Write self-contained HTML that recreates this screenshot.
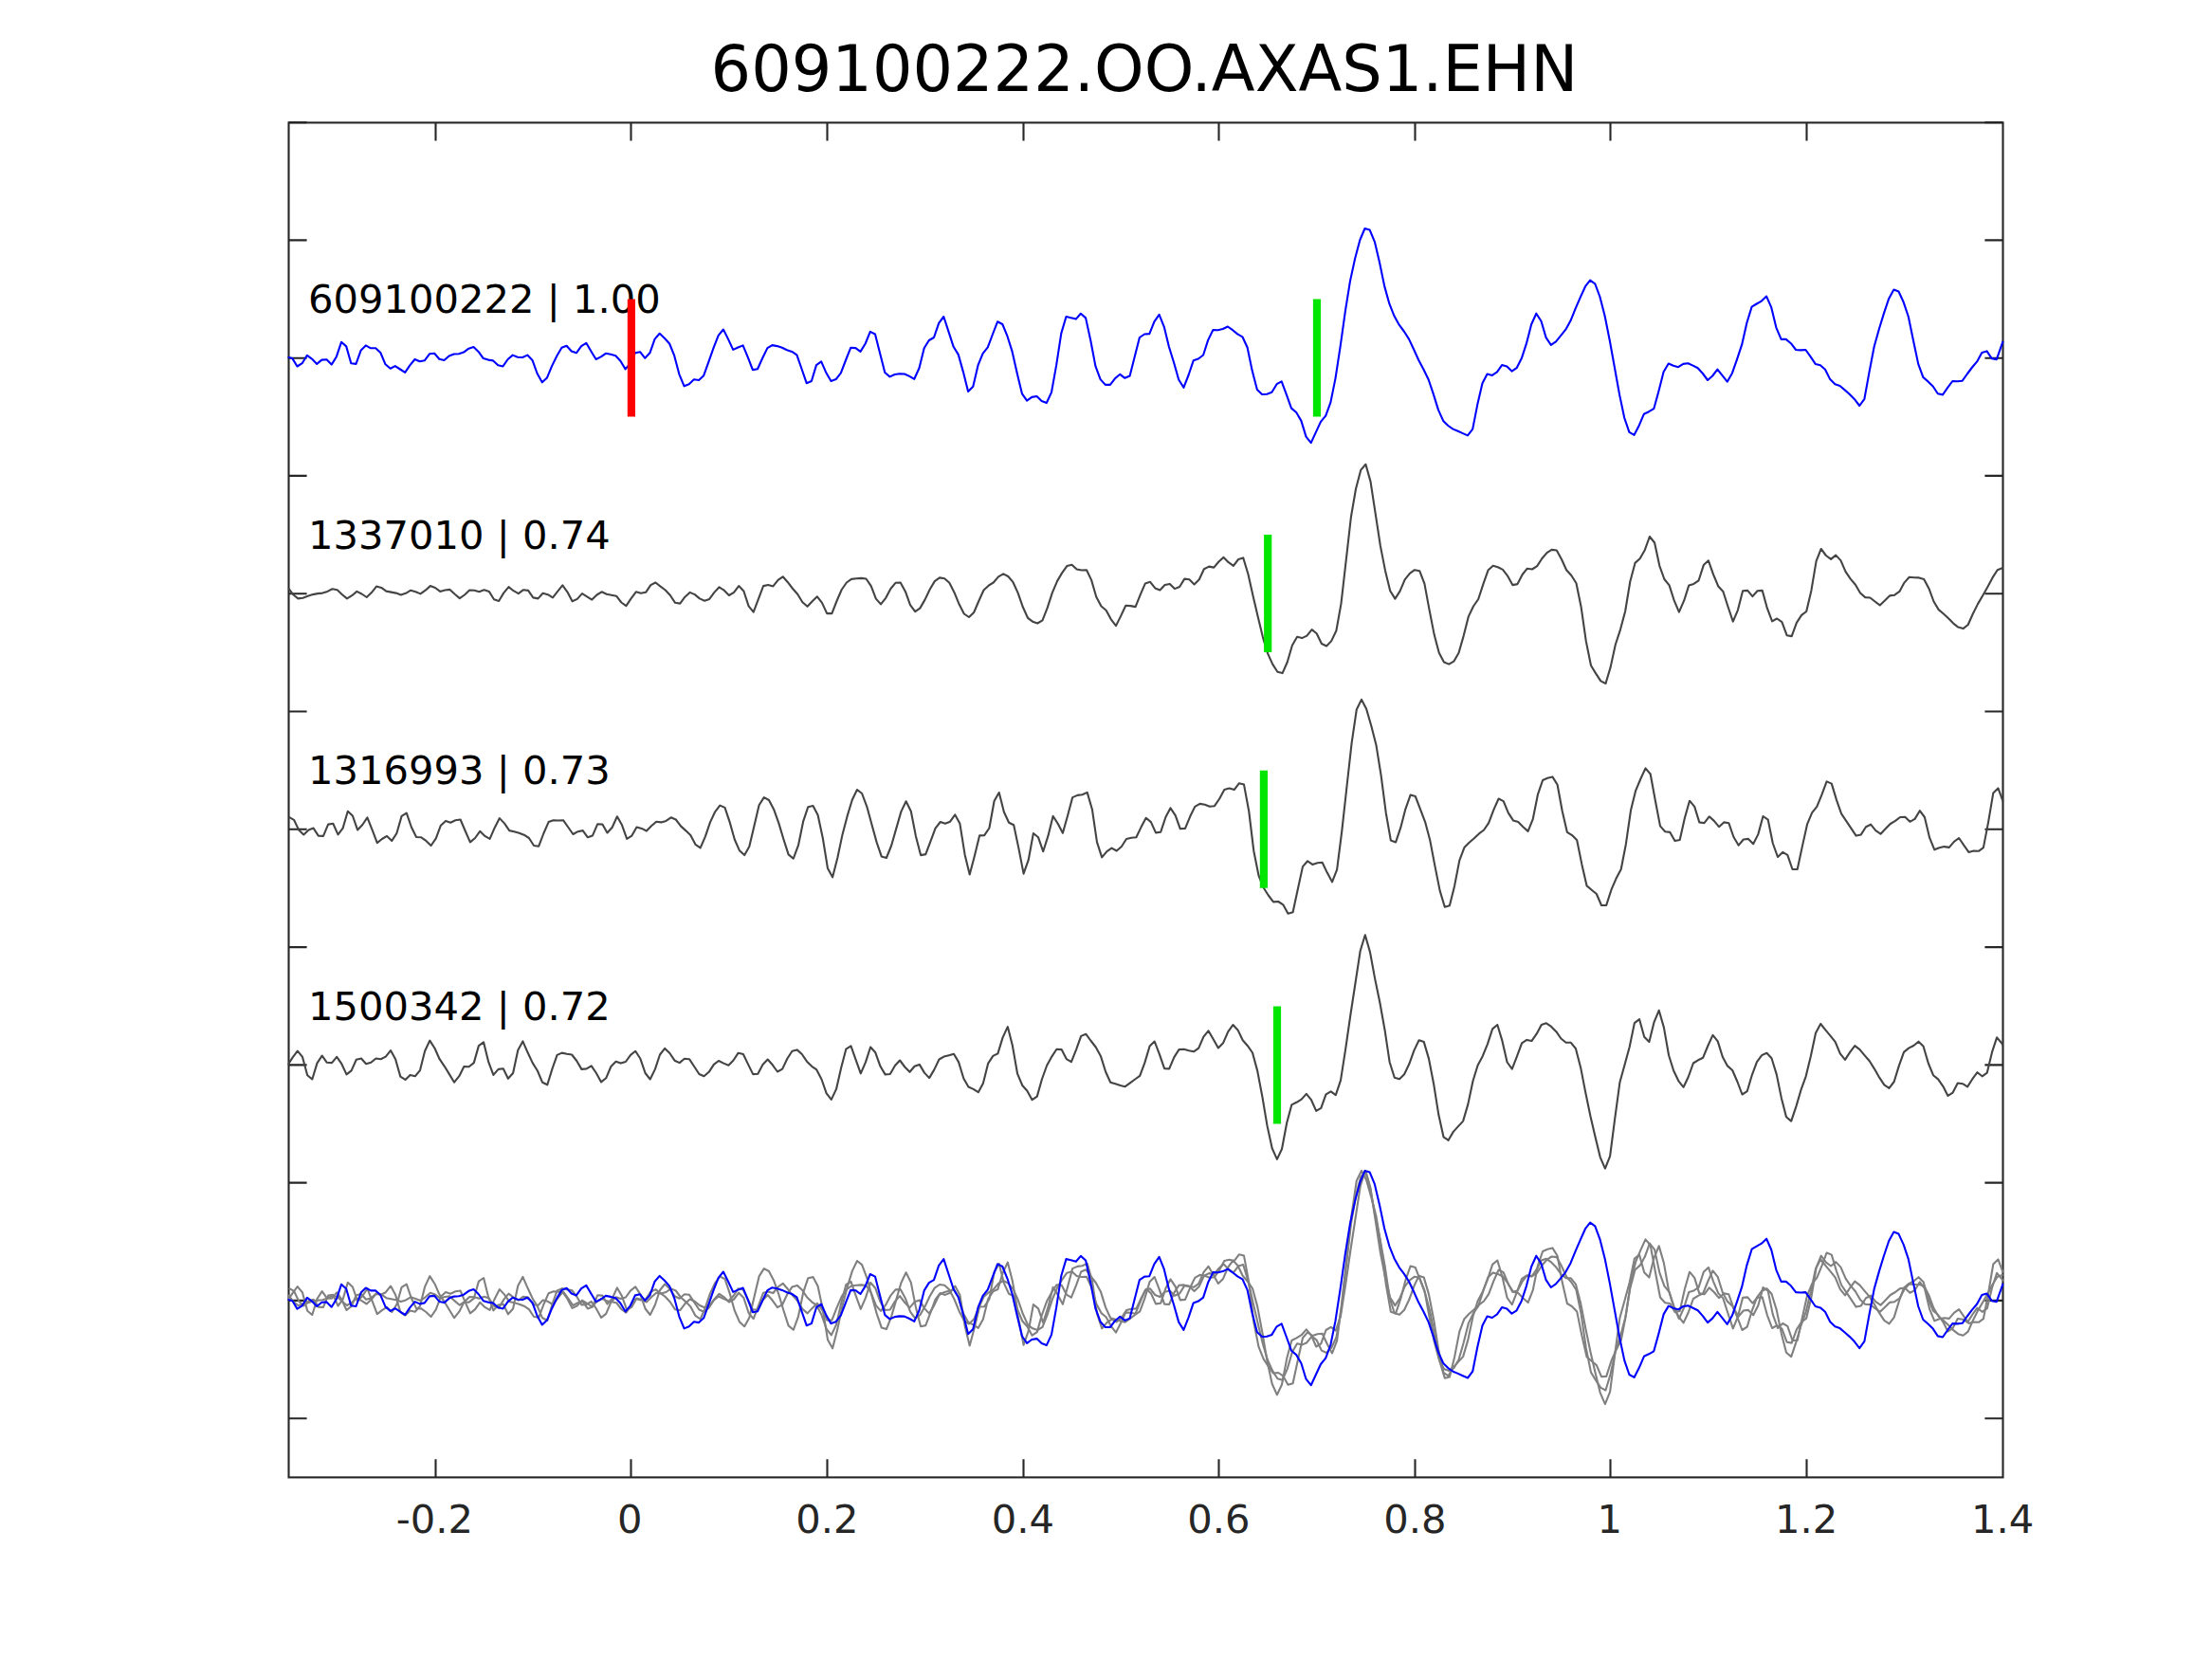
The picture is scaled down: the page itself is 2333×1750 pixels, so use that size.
<!DOCTYPE html>
<html><head><meta charset="utf-8"><title>609100222.OO.AXAS1.EHN</title>
<style>
html,body{margin:0;padding:0;background:#fff;}
body{width:2333px;height:1750px;overflow:hidden;}
svg{display:block;}
text{font-family:"DejaVu Sans","Liberation Sans",sans-serif;}
.tl{font-size:41.67px;fill:#262626;text-anchor:middle;}
.lb{font-size:41.67px;fill:#000;}
.ti{font-size:66.92px;fill:#000;text-anchor:middle;}
.ax{stroke:#262626;stroke-width:2.1;fill:none;stroke-linecap:square;}
.tk{stroke:#262626;stroke-width:2.1;fill:none;}
.w{fill:none;stroke-width:2.1;stroke-linejoin:round;stroke-linecap:butt;}
</style></head><body>
<svg width="2333" height="1750" viewBox="0 0 2333 1750">
<rect x="0" y="0" width="2333" height="1750" fill="#fff"/>

<rect class="ax" x="304.5" y="129.4" width="1808.0" height="1429.0"/>
<path class="tk" d="M459.5 1558.4V1539.3M459.5 129.4V148.5M665.5 1558.4V1539.3M665.5 129.4V148.5M872.5 1558.4V1539.3M872.5 129.4V148.5M1079.5 1558.4V1539.3M1079.5 129.4V148.5M1285.5 1558.4V1539.3M1285.5 129.4V148.5M1492.5 1558.4V1539.3M1492.5 129.4V148.5M1698.5 1558.4V1539.3M1698.5 129.4V148.5M1905.5 1558.4V1539.3M1905.5 129.4V148.5M304.5 1496.2H323.6M2112.5 1496.2H2093.4M304.5 1371.9H323.6M2112.5 1371.9H2093.4M304.5 1247.6H323.6M2112.5 1247.6H2093.4M304.5 1123.4H323.6M2112.5 1123.4H2093.4M304.5 999.1H323.6M2112.5 999.1H2093.4M304.5 874.8H323.6M2112.5 874.8H2093.4M304.5 750.5H323.6M2112.5 750.5H2093.4M304.5 626.2H323.6M2112.5 626.2H2093.4M304.5 501.9H323.6M2112.5 501.9H2093.4M304.5 377.7H323.6M2112.5 377.7H2093.4M304.5 253.4H323.6M2112.5 253.4H2093.4M304.5 129.1H323.6M2112.5 129.1H2093.4"/>
<text class="lb" x="325" y="330.2">609100222 | 1.00</text>
<text class="lb" x="325" y="578.7">1337010 | 0.74</text>
<text class="lb" x="325" y="827.3">1316993 | 0.73</text>
<text class="lb" x="325" y="1075.9">1500342 | 0.72</text>
<clipPath id="c"><rect x="303.4" y="129.4" width="1812.1" height="1429.0"/></clipPath><g clip-path="url(#c)">
<path class="w" stroke="#808080" stroke-width="1.6" d="M304.1 1365.9L309.2 1372.8L314.4 1377.0L319.5 1376.3L324.7 1374.2L329.9 1372.7L335.0 1371.6L340.2 1371.2L345.4 1369.5L350.5 1366.9L355.7 1367.7L360.9 1372.8L366.0 1377.0L371.2 1373.8L376.4 1369.5L381.5 1372.1L386.7 1375.5L391.9 1370.6L397.0 1364.1L402.2 1365.4L407.4 1369.2L412.5 1370.2L417.7 1371.2L422.8 1373.1L428.0 1371.4L433.2 1368.3L438.3 1369.9L443.5 1371.9L448.7 1368.3L453.8 1363.7L459.0 1365.6L464.2 1369.5L469.3 1368.0L474.5 1367.4L479.7 1372.4L484.8 1376.7L490.0 1373.1L495.2 1368.0L500.3 1368.3L505.5 1369.8L510.7 1367.7L515.8 1369.5L521.0 1377.7L526.1 1379.6L531.3 1370.9L536.5 1364.7L541.6 1368.7L546.8 1371.6L552.0 1367.7L557.1 1368.5L562.3 1376.0L567.5 1377.0L572.6 1371.4L577.8 1372.8L583.0 1376.0L588.1 1369.5L593.3 1363.0L598.5 1370.2L603.6 1379.9L608.8 1377.4L614.0 1371.6L619.1 1374.8L624.3 1378.2L629.5 1373.1L634.6 1369.9L639.8 1372.4L644.9 1373.2L650.1 1374.2L655.3 1381.0L660.4 1384.7L665.6 1377.0L670.8 1369.9L675.9 1371.4L681.1 1370.3L686.3 1362.7L691.4 1360.1L696.6 1364.1L701.8 1368.0L706.9 1373.5L712.1 1381.3L717.3 1382.2L722.4 1375.3L727.6 1370.5L732.8 1372.7L737.9 1377.0L743.1 1379.3L748.2 1377.4L753.4 1370.5L758.6 1364.8L763.7 1368.3L768.9 1373.5L774.1 1370.5L779.2 1363.7L784.4 1369.0L789.6 1385.0L794.7 1391.2L799.9 1377.4L805.1 1363.7L810.2 1362.5L815.4 1364.0L820.6 1357.5L825.7 1353.8L830.9 1359.8L836.1 1366.6L841.2 1372.4L846.4 1380.8L851.6 1385.4L856.7 1379.9L861.9 1374.8L867.0 1381.5L872.2 1392.6L877.4 1392.6L882.5 1379.6L887.7 1367.6L892.9 1360.1L898.0 1356.5L903.2 1355.7L908.4 1355.4L913.5 1356.0L918.7 1363.7L923.9 1377.1L929.0 1382.9L934.2 1376.4L939.4 1366.6L944.5 1360.4L949.7 1360.1L954.9 1369.5L960.0 1383.6L965.2 1390.7L970.3 1387.1L975.5 1378.2L980.7 1367.3L985.8 1358.6L991.0 1355.0L996.2 1355.7L1001.3 1360.4L1006.5 1370.5L1011.7 1383.2L1016.8 1393.1L1022.0 1396.5L1027.2 1391.6L1032.3 1379.6L1037.5 1368.0L1042.7 1363.3L1047.8 1360.1L1053.0 1354.0L1058.2 1351.0L1063.3 1353.6L1068.5 1359.8L1073.6 1370.9L1078.8 1385.8L1084.0 1397.4L1089.1 1401.3L1094.3 1403.0L1099.5 1399.9L1104.6 1386.8L1109.8 1370.9L1115.0 1358.6L1120.1 1349.9L1125.3 1342.7L1130.5 1341.3L1135.6 1346.0L1140.8 1347.0L1146.0 1346.8L1151.1 1357.5L1156.3 1375.3L1161.5 1385.1L1166.6 1389.3L1171.8 1398.8L1177.0 1405.6L1182.1 1395.5L1187.3 1384.4L1192.4 1384.7L1197.6 1385.7L1202.8 1372.8L1207.9 1360.9L1213.1 1359.3L1218.3 1366.0L1223.4 1368.0L1228.6 1362.7L1233.8 1361.5L1238.9 1366.7L1244.1 1364.5L1249.3 1356.1L1254.4 1356.9L1259.6 1361.9L1264.8 1356.9L1269.9 1345.7L1275.1 1343.1L1280.3 1344.1L1285.4 1338.1L1290.6 1333.4L1295.7 1338.8L1300.9 1342.4L1306.1 1335.6L1311.2 1334.0L1316.4 1351.1L1321.6 1374.2L1326.7 1395.9L1331.9 1417.6L1337.1 1435.0L1342.2 1446.1L1347.4 1454.2L1352.6 1455.7L1357.7 1444.1L1362.9 1426.3L1368.1 1417.3L1373.2 1418.6L1378.4 1416.2L1383.6 1409.7L1388.7 1413.7L1393.9 1424.6L1399.1 1427.0L1404.2 1421.7L1409.4 1410.8L1414.5 1382.2L1419.7 1336.6L1424.9 1291.0L1430.0 1261.4L1435.2 1241.4L1440.4 1235.4L1445.5 1253.4L1450.7 1287.4L1455.9 1321.4L1461.0 1347.5L1466.2 1368.9L1471.4 1377.1L1476.5 1369.2L1481.7 1356.9L1486.9 1350.4L1492.0 1346.7L1497.2 1347.8L1502.4 1361.2L1507.5 1388.7L1512.7 1415.2L1517.8 1434.3L1523.0 1444.1L1528.2 1446.1L1533.3 1443.2L1538.5 1434.3L1543.7 1416.2L1548.8 1395.9L1554.0 1385.1L1559.2 1377.6L1564.3 1361.9L1569.5 1347.2L1574.7 1342.4L1579.8 1343.9L1585.0 1346.5L1590.2 1353.3L1595.3 1362.7L1600.5 1361.6L1605.7 1351.5L1610.8 1345.3L1616.0 1346.0L1621.2 1342.7L1626.3 1334.7L1631.5 1328.7L1636.6 1325.5L1641.8 1326.1L1647.0 1335.6L1652.1 1346.7L1657.3 1352.5L1662.5 1360.8L1667.6 1385.8L1672.8 1422.0L1678.0 1447.6L1683.1 1456.0L1688.3 1463.9L1693.5 1466.5L1698.6 1449.5L1703.8 1425.6L1709.0 1409.7L1714.1 1390.6L1719.3 1359.0L1724.5 1339.5L1729.6 1334.9L1734.8 1325.8L1739.9 1311.6L1745.1 1318.1L1750.3 1342.4L1755.4 1356.6L1760.6 1362.9L1765.8 1379.3L1770.9 1391.2L1776.1 1379.3L1781.3 1362.9L1786.4 1361.5L1791.6 1357.9L1796.8 1341.7L1801.9 1336.9L1807.1 1351.8L1812.3 1364.1L1817.4 1369.6L1822.6 1385.8L1827.8 1401.3L1832.9 1389.1L1838.1 1368.7L1843.2 1368.4L1848.4 1374.7L1853.6 1368.7L1858.7 1368.4L1863.9 1387.3L1869.1 1401.0L1874.2 1398.1L1879.4 1401.7L1884.6 1415.7L1889.7 1416.6L1894.9 1402.4L1900.1 1394.5L1905.2 1390.6L1910.4 1368.4L1915.6 1337.3L1920.7 1324.6L1925.9 1331.6L1931.1 1335.5L1936.2 1331.1L1941.4 1336.6L1946.6 1348.6L1951.7 1356.1L1956.9 1362.2L1962.0 1371.0L1967.2 1375.7L1972.4 1376.1L1977.5 1380.0L1982.7 1383.9L1987.9 1379.0L1993.0 1373.9L1998.2 1373.2L2003.4 1369.5L2008.5 1360.2L2013.7 1354.4L2018.9 1354.8L2024.0 1355.0L2029.2 1356.4L2034.4 1366.3L2039.5 1380.0L2044.7 1388.7L2049.9 1393.0L2055.0 1397.8L2060.2 1403.2L2065.3 1407.2L2070.5 1408.7L2075.7 1404.6L2080.8 1393.0L2086.0 1382.6L2091.2 1373.8L2096.3 1364.8L2101.5 1355.0L2106.7 1346.7L2111.8 1344.9L2112.6 1344.7"/>
<path class="w" stroke="#808080" stroke-width="1.6" d="M304.8 1358.9L310.0 1361.8L315.1 1372.4L320.3 1377.5L325.5 1372.4L330.6 1370.7L335.8 1378.6L341.0 1378.9L346.1 1366.6L351.3 1365.9L356.5 1377.5L361.6 1370.7L366.8 1352.9L371.9 1357.5L377.1 1372.4L382.3 1367.0L387.4 1359.4L392.6 1372.4L397.8 1386.1L402.9 1382.1L408.1 1378.9L413.3 1384.0L418.4 1376.0L423.6 1357.9L428.8 1354.7L433.9 1369.5L439.1 1380.1L444.3 1380.4L449.4 1384.0L454.6 1389.0L459.8 1381.4L464.9 1367.8L470.1 1363.0L475.2 1364.7L480.4 1362.3L485.6 1361.5L490.7 1373.6L495.9 1385.4L501.1 1381.1L506.2 1373.8L511.4 1378.9L516.6 1381.8L521.7 1370.2L526.9 1360.1L532.1 1365.6L537.2 1373.1L542.4 1374.3L547.6 1375.7L552.7 1377.7L557.9 1381.1L563.1 1389.0L568.2 1389.8L573.4 1376.0L578.6 1364.2L583.7 1362.3L588.9 1362.6L594.0 1362.3L599.2 1369.5L604.4 1377.0L609.5 1374.3L614.7 1373.1L619.9 1380.4L625.0 1378.5L630.2 1366.3L635.4 1366.6L640.5 1375.6L645.7 1369.8L650.9 1358.4L656.0 1367.3L661.2 1381.8L666.4 1378.6L671.5 1369.5L676.7 1370.9L681.9 1373.6L687.0 1368.3L692.2 1363.7L697.3 1364.4L702.5 1363.0L707.7 1359.4L712.8 1361.5L718.0 1368.5L723.2 1373.1L728.3 1378.2L733.5 1387.9L738.7 1391.5L743.8 1379.6L749.0 1364.4L754.2 1353.3L759.3 1346.6L764.5 1349.0L769.7 1364.4L774.8 1382.5L780.0 1394.4L785.2 1399.2L790.3 1390.0L795.5 1368.1L800.6 1346.4L805.8 1338.1L811.0 1341.0L816.1 1350.7L821.3 1365.2L826.5 1382.5L831.6 1398.4L836.8 1402.8L842.0 1388.7L847.1 1363.7L852.3 1348.2L857.5 1347.1L862.6 1356.8L867.8 1381.1L873.0 1413.2L878.1 1422.3L883.3 1402.1L888.5 1377.5L893.6 1357.9L898.8 1340.9L904.0 1330.0L909.1 1334.1L914.3 1347.8L919.4 1366.6L924.6 1385.4L929.8 1400.6L934.9 1402.1L940.1 1389.0L945.3 1370.9L950.4 1353.2L955.6 1342.3L960.8 1352.9L965.9 1378.9L971.1 1399.2L976.3 1398.1L981.4 1384.7L986.6 1370.7L991.8 1364.0L996.9 1365.9L1002.1 1363.7L1007.3 1356.5L1012.4 1365.9L1017.6 1398.4L1022.7 1419.4L1027.9 1399.9L1033.1 1378.5L1038.2 1378.2L1043.4 1370.5L1048.6 1342.0L1053.7 1333.0L1058.9 1353.6L1064.1 1364.7L1069.2 1367.3L1074.4 1391.9L1079.6 1418.7L1084.7 1404.2L1089.9 1376.0L1095.1 1380.4L1100.2 1395.3L1105.4 1378.9L1110.6 1357.9L1115.7 1365.9L1120.9 1375.7L1126.1 1357.2L1131.2 1338.1L1136.4 1335.9L1141.5 1335.2L1146.7 1332.9L1151.9 1350.7L1157.0 1385.4L1162.2 1401.3L1167.4 1395.1L1172.5 1391.6L1177.7 1394.5L1182.9 1390.0L1188.0 1382.1L1193.2 1380.8L1198.4 1380.4L1203.5 1369.6L1208.7 1359.8L1213.9 1364.1L1219.0 1375.4L1224.2 1374.7L1229.4 1359.1L1234.5 1349.4L1239.7 1357.2L1244.8 1371.4L1250.0 1370.9L1255.2 1358.3L1260.3 1347.9L1265.5 1344.9L1270.7 1345.8L1275.8 1347.8L1281.0 1347.2L1286.2 1339.5L1291.3 1330.1L1296.5 1328.7L1301.7 1330.1L1306.8 1323.3L1312.0 1324.6L1317.2 1352.6L1322.3 1394.5L1327.5 1420.6L1332.7 1433.6L1337.8 1441.5L1343.0 1448.5L1348.2 1448.0L1353.3 1451.4L1358.5 1460.8L1363.6 1459.3L1368.8 1435.0L1374.0 1411.2L1379.1 1405.4L1384.3 1409.0L1389.5 1407.2L1394.6 1406.8L1399.8 1417.7L1405.0 1427.4L1410.1 1414.3L1415.3 1373.5L1420.5 1326.5L1425.6 1281.0L1430.8 1245.5L1436.0 1234.9L1441.1 1244.8L1446.3 1262.9L1451.5 1283.1L1456.6 1314.9L1461.8 1354.7L1466.9 1383.7L1472.1 1385.4L1477.3 1369.9L1482.4 1350.4L1487.6 1335.6L1492.8 1337.1L1497.9 1350.4L1503.1 1364.1L1508.3 1383.7L1513.4 1410.4L1518.6 1436.5L1523.8 1453.8L1528.9 1452.4L1534.1 1431.4L1539.3 1404.6L1544.4 1391.2L1549.6 1385.8L1554.8 1381.2L1559.9 1376.4L1565.1 1372.5L1570.2 1364.9L1575.4 1351.1L1580.6 1339.5L1585.7 1342.1L1590.9 1354.7L1596.1 1362.7L1601.2 1364.1L1606.4 1369.2L1611.6 1374.0L1616.7 1361.2L1621.9 1335.2L1627.1 1320.0L1632.2 1317.8L1637.4 1316.4L1642.6 1324.8L1647.7 1352.6L1652.9 1375.0L1658.1 1378.2L1663.2 1383.4L1668.4 1409.0L1673.6 1431.4L1678.7 1435.7L1683.9 1440.1L1689.0 1452.1L1694.2 1451.9L1699.4 1435.7L1704.5 1423.9L1709.7 1414.0L1714.9 1387.3L1720.0 1351.8L1725.2 1330.9L1730.4 1318.6L1735.5 1307.4L1740.7 1313.5L1745.9 1341.7L1751.0 1368.5L1756.2 1374.3L1761.4 1375.0L1766.5 1384.1L1771.7 1382.9L1776.9 1359.8L1782.0 1341.7L1787.2 1347.9L1792.3 1364.4L1797.5 1365.3L1802.7 1358.3L1807.8 1363.0L1813.0 1369.2L1818.2 1364.4L1823.3 1365.3L1828.5 1380.0L1833.7 1388.7L1838.8 1382.5L1844.0 1381.9L1849.2 1387.3L1854.3 1377.2L1859.5 1358.1L1864.7 1361.7L1869.8 1386.6L1875.0 1401.0L1880.2 1396.0L1885.3 1398.9L1890.5 1414.0L1895.7 1414.0L1900.8 1390.2L1906.0 1366.7L1911.1 1354.4L1916.3 1347.9L1921.5 1335.2L1926.6 1321.5L1931.8 1323.6L1937.0 1341.0L1942.1 1355.5L1947.3 1363.1L1952.5 1370.9L1957.6 1378.6L1962.8 1377.4L1968.0 1369.2L1973.1 1366.7L1978.3 1373.1L1983.5 1376.7L1988.6 1371.4L1993.8 1366.0L1999.0 1363.0L2004.1 1359.1L2009.3 1358.8L2014.4 1363.8L2019.6 1361.0L2024.8 1352.3L2029.9 1359.1L2035.1 1380.8L2040.3 1393.4L2045.4 1391.3L2050.6 1390.2L2055.8 1390.9L2060.9 1384.8L2066.1 1381.1L2071.3 1388.7L2076.4 1396.0L2081.6 1394.5L2086.8 1394.8L2091.9 1391.2L2097.1 1364.1L2102.3 1333.5L2107.4 1328.4L2112.6 1342.4L2112.6 1342.5"/>
<path class="w" stroke="#808080" stroke-width="1.6" d="M303.5 1371.8L308.7 1363.9L313.8 1357.1L319.0 1363.4L324.2 1382.7L329.3 1387.0L334.5 1370.0L339.7 1362.1L344.8 1369.4L350.0 1369.7L355.2 1363.4L360.3 1370.7L365.5 1382.0L370.6 1377.9L375.8 1366.3L381.0 1365.0L386.1 1370.7L391.3 1369.4L396.5 1365.0L401.6 1365.8L406.8 1363.2L412.0 1356.6L417.1 1365.8L422.3 1384.1L427.5 1387.5L432.6 1382.4L437.8 1383.7L443.0 1377.6L448.1 1357.4L453.3 1346.1L458.5 1354.2L463.6 1365.8L468.8 1373.3L473.9 1381.7L479.1 1390.2L484.3 1383.7L489.4 1373.6L494.6 1373.7L499.8 1369.7L504.9 1351.6L510.1 1348.0L515.3 1368.9L520.4 1382.4L525.6 1376.5L530.8 1375.7L535.9 1386.3L541.1 1380.5L546.3 1356.2L551.4 1346.9L556.6 1358.8L561.8 1370.0L566.9 1378.1L572.1 1390.3L577.3 1392.8L582.4 1376.2L587.6 1361.4L592.7 1359.1L597.9 1360.3L603.1 1361.0L608.2 1367.5L613.4 1376.5L618.6 1375.9L623.7 1372.8L628.9 1380.5L634.1 1389.9L639.2 1385.9L644.4 1373.6L649.6 1368.2L654.7 1370.1L659.9 1368.5L665.1 1361.4L670.2 1357.4L675.4 1365.3L680.6 1380.5L685.7 1387.0L690.9 1376.5L696.0 1361.0L701.2 1354.5L706.4 1359.5L711.5 1367.2L716.7 1369.7L721.9 1365.3L727.0 1365.8L732.2 1373.6L737.4 1381.5L742.5 1383.8L747.7 1379.4L752.9 1371.4L758.0 1367.5L763.2 1370.1L768.4 1372.3L773.5 1367.1L778.7 1359.2L783.9 1360.5L789.0 1371.1L794.2 1381.7L799.3 1381.2L804.5 1371.5L809.7 1366.0L814.8 1371.8L820.0 1379.1L825.2 1376.2L830.3 1365.3L835.5 1357.4L840.7 1355.9L845.8 1360.5L851.0 1368.2L856.2 1373.3L861.3 1376.9L866.5 1387.0L871.7 1401.9L876.8 1408.4L882.0 1397.4L887.2 1374.7L892.3 1355.2L897.5 1351.9L902.7 1366.8L907.8 1380.8L913.0 1368.9L918.1 1353.0L923.3 1358.8L928.5 1373.3L933.6 1382.0L938.8 1381.5L944.0 1372.6L949.1 1367.1L954.3 1374.0L959.5 1379.4L964.6 1373.3L969.8 1371.4L975.0 1380.1L980.1 1385.6L985.3 1376.9L990.5 1366.0L995.6 1363.2L1000.8 1361.7L1006.0 1360.3L1011.1 1368.9L1016.3 1386.0L1021.4 1395.0L1026.6 1397.4L1031.8 1400.8L1036.9 1391.4L1042.1 1370.4L1047.3 1362.4L1052.4 1360.0L1057.6 1342.9L1062.8 1331.6L1067.9 1351.6L1073.1 1381.2L1078.3 1393.5L1083.4 1399.3L1088.6 1408.7L1093.8 1405.1L1098.9 1387.0L1104.1 1372.6L1109.3 1363.2L1114.4 1355.2L1119.6 1355.6L1124.8 1365.6L1129.9 1368.6L1135.1 1355.6L1140.2 1341.5L1145.4 1339.3L1150.6 1346.5L1155.7 1353.0L1160.9 1362.4L1166.1 1379.1L1171.2 1390.3L1176.4 1391.8L1181.6 1393.5L1186.7 1394.7L1191.9 1390.9L1197.1 1387.0L1202.2 1383.4L1207.4 1369.4L1212.6 1352.0L1217.7 1347.0L1222.9 1360.7L1228.1 1375.6L1233.2 1375.9L1238.4 1363.6L1243.5 1355.7L1248.7 1355.4L1253.9 1356.8L1259.0 1357.8L1264.2 1354.2L1269.4 1342.2L1274.5 1335.8L1279.7 1344.8L1284.9 1353.9L1290.0 1348.9L1295.2 1336.9L1300.4 1329.6L1305.5 1335.0L1310.7 1345.8L1315.9 1351.8L1321.0 1359.0L1326.2 1378.1L1331.4 1405.6L1336.5 1435.9L1341.7 1459.8L1346.9 1471.4L1352.0 1460.5L1357.2 1433.1L1362.3 1414.0L1367.5 1411.4L1372.7 1408.2L1377.8 1402.4L1383.0 1408.7L1388.2 1420.5L1393.3 1417.4L1398.5 1403.0L1403.7 1399.8L1408.8 1403.7L1414.0 1388.2L1419.2 1354.9L1424.3 1319.5L1429.5 1285.5L1434.7 1251.5L1439.8 1234.9L1445.0 1252.9L1450.2 1281.2L1455.3 1305.7L1460.5 1334.7L1465.6 1368.7L1470.8 1385.3L1476.0 1386.8L1481.1 1381.7L1486.3 1370.8L1491.5 1356.4L1496.6 1345.8L1501.8 1347.6L1507.0 1365.4L1512.1 1391.7L1517.3 1424.3L1522.5 1447.9L1527.6 1451.3L1532.8 1442.4L1538.0 1436.6L1543.1 1431.1L1548.3 1413.4L1553.5 1388.8L1558.6 1372.2L1563.8 1362.4L1568.9 1349.8L1574.1 1333.9L1579.3 1329.5L1584.4 1346.5L1589.6 1369.0L1594.8 1376.1L1599.9 1362.8L1605.1 1348.8L1610.3 1345.4L1615.4 1346.6L1620.6 1339.2L1625.8 1329.5L1630.9 1327.8L1636.1 1331.4L1641.3 1336.8L1646.4 1344.0L1651.6 1348.3L1656.8 1348.3L1661.9 1354.6L1667.1 1374.4L1672.3 1401.1L1677.4 1425.7L1682.6 1448.2L1687.7 1469.1L1692.9 1481.1L1698.1 1468.1L1703.2 1428.6L1708.4 1390.3L1713.6 1371.5L1718.7 1352.7L1723.9 1327.7L1729.1 1323.7L1734.2 1342.3L1739.4 1347.6L1744.6 1326.6L1749.7 1314.3L1754.9 1332.4L1760.1 1361.8L1765.2 1378.0L1770.4 1388.8L1775.6 1395.4L1780.7 1384.5L1785.9 1370.0L1791.0 1366.9L1796.2 1364.3L1801.4 1351.5L1806.5 1340.4L1811.7 1346.9L1816.9 1363.5L1822.0 1372.9L1827.2 1377.6L1832.4 1389.6L1837.5 1403.0L1842.7 1399.7L1847.9 1382.3L1853.0 1368.6L1858.2 1361.7L1863.4 1359.2L1868.5 1364.7L1873.7 1381.6L1878.9 1406.9L1884.0 1426.7L1889.2 1431.1L1894.4 1415.6L1899.5 1398.3L1904.7 1383.8L1909.8 1362.8L1915.0 1338.2L1920.2 1328.5L1925.3 1334.9L1930.5 1341.1L1935.7 1347.6L1940.8 1359.9L1946.0 1366.4L1951.2 1358.5L1956.3 1351.7L1961.5 1355.6L1966.7 1361.8L1971.8 1367.9L1977.0 1376.1L1982.2 1385.2L1987.3 1392.9L1992.5 1396.4L1997.7 1389.6L2002.8 1372.9L2008.0 1358.5L2013.1 1354.1L2018.3 1351.5L2023.5 1347.2L2028.6 1352.2L2033.8 1370.0L2039.0 1382.8L2044.1 1387.0L2049.3 1394.3L2054.5 1404.5L2059.6 1401.1L2064.8 1391.0L2070.0 1391.7L2075.1 1394.9L2080.3 1386.7L2085.5 1379.7L2090.6 1383.8L2095.8 1380.2L2101.0 1358.5L2106.1 1342.8L2111.3 1349.1L2112.6 1351.5"/>
<path class="w" stroke="#0000ff" d="M303.2 1370.8L308.4 1372.2L313.5 1380.6L318.7 1377.3L323.9 1368.9L329.0 1372.6L334.2 1378.0L339.4 1373.7L344.5 1373.4L349.7 1378.7L354.9 1370.3L360.0 1354.8L365.2 1359.5L370.3 1377.3L375.5 1378.0L380.7 1363.5L385.8 1358.5L391.0 1361.4L396.2 1361.4L401.3 1366.1L406.5 1378.4L411.7 1382.9L416.8 1380.2L422.0 1383.6L427.2 1387.0L432.3 1379.4L437.5 1373.1L442.7 1375.4L447.8 1374.4L453.0 1367.4L458.2 1366.9L463.3 1372.9L468.5 1374.1L473.6 1369.6L478.8 1367.6L484.0 1367.3L489.1 1365.7L494.3 1361.8L499.5 1360.1L504.6 1365.0L509.8 1372.2L515.0 1373.7L520.1 1374.5L525.3 1379.3L530.5 1380.5L535.6 1373.1L540.8 1368.7L546.0 1370.8L551.1 1371.0L556.3 1368.7L561.5 1373.9L566.6 1388.1L571.8 1397.4L577.0 1392.5L582.1 1380.2L587.3 1369.6L592.4 1360.9L597.6 1358.8L602.8 1364.5L607.9 1366.4L613.1 1359.2L618.3 1355.9L623.4 1364.5L628.6 1373.1L633.8 1370.5L638.9 1366.9L644.1 1367.9L649.3 1369.3L654.4 1374.8L659.6 1383.5L664.8 1377.3L669.9 1366.4L675.1 1365.3L680.3 1371.9L685.4 1366.4L690.6 1351.7L695.7 1345.9L700.9 1350.8L706.1 1356.6L711.2 1369.3L716.4 1388.8L721.6 1401.4L726.7 1399.3L731.9 1394.3L737.1 1395.1L742.2 1390.3L747.4 1375.8L752.6 1360.9L757.7 1347.9L762.9 1341.5L768.1 1352.0L773.2 1362.9L778.4 1360.6L783.6 1358.5L788.7 1370.8L793.9 1384.2L799.0 1383.3L804.2 1371.9L809.4 1361.2L814.5 1358.2L819.7 1359.2L824.9 1360.9L830.0 1363.2L835.2 1365.0L840.4 1368.4L845.5 1383.1L850.7 1398.2L855.9 1396.1L861.0 1379.2L866.2 1375.5L871.4 1387.4L876.5 1396.1L881.7 1394.2L886.9 1387.4L892.0 1374.1L897.2 1360.9L902.4 1361.2L907.5 1365.0L912.7 1356.6L917.8 1344.0L923.0 1346.6L928.2 1367.1L933.3 1387.1L938.5 1391.4L943.7 1389.1L948.8 1388.4L954.0 1388.6L959.2 1391.0L964.3 1393.9L969.5 1382.3L974.7 1361.4L979.8 1353.1L985.0 1350.1L990.2 1334.9L995.3 1328.1L1000.5 1344.0L1005.7 1359.9L1010.8 1368.2L1016.0 1386.7L1021.1 1407.2L1026.3 1401.9L1031.5 1379.4L1036.6 1366.9L1041.8 1360.3L1047.0 1346.6L1052.1 1333.4L1057.3 1336.0L1062.5 1348.8L1067.6 1365.0L1072.8 1388.1L1078.0 1409.5L1083.1 1416.8L1088.3 1413.0L1093.5 1412.1L1098.6 1417.1L1103.8 1419.1L1109.0 1407.9L1114.1 1379.4L1119.3 1345.7L1124.5 1328.1L1129.6 1329.2L1134.8 1330.7L1139.9 1324.9L1145.1 1329.5L1150.3 1353.4L1155.4 1380.2L1160.6 1394.2L1165.8 1400.0L1170.9 1400.0L1176.1 1393.2L1181.3 1388.8L1186.4 1392.9L1191.6 1390.6L1196.8 1370.0L1201.9 1350.1L1207.1 1346.6L1212.3 1346.2L1217.4 1333.4L1222.6 1325.9L1227.8 1338.9L1232.9 1359.9L1238.1 1376.5L1243.2 1394.6L1248.4 1402.9L1253.6 1389.6L1258.7 1374.4L1263.9 1372.6L1269.1 1368.6L1274.2 1352.7L1279.4 1342.1L1284.6 1342.3L1289.7 1341.1L1294.9 1338.6L1300.1 1342.3L1305.2 1346.4L1310.4 1349.3L1315.6 1360.6L1320.7 1385.2L1325.9 1405.2L1331.1 1410.1L1336.2 1409.8L1341.4 1407.9L1346.6 1399.3L1351.7 1396.4L1356.9 1410.5L1362.0 1424.7L1367.2 1429.1L1372.4 1438.0L1377.5 1454.7L1382.7 1461.2L1387.9 1450.0L1393.0 1439.0L1398.2 1432.7L1403.4 1418.5L1408.5 1393.2L1413.7 1359.2L1418.9 1322.3L1424.0 1290.5L1429.2 1266.6L1434.4 1247.1L1439.5 1235.1L1444.7 1236.6L1449.9 1249.2L1455.0 1270.9L1460.2 1296.0L1465.3 1314.3L1470.5 1327.4L1475.7 1336.8L1480.8 1343.6L1486.0 1351.7L1491.2 1362.8L1496.3 1374.1L1501.5 1383.8L1506.7 1394.6L1511.8 1409.8L1517.0 1426.4L1522.2 1438.0L1527.3 1443.1L1532.5 1446.7L1537.7 1448.9L1542.8 1451.2L1548.0 1453.5L1553.2 1446.7L1558.3 1420.7L1563.5 1398.2L1568.6 1388.5L1573.8 1390.0L1579.0 1386.4L1584.1 1379.1L1589.3 1380.6L1594.5 1385.7L1599.6 1382.3L1604.8 1372.2L1610.0 1356.3L1615.1 1336.3L1620.3 1324.7L1625.5 1332.9L1630.6 1350.2L1635.8 1358.0L1641.0 1354.4L1646.1 1348.3L1651.3 1341.8L1656.5 1332.4L1661.6 1319.8L1666.8 1307.8L1672.0 1296.2L1677.1 1289.7L1682.3 1293.4L1687.4 1307.1L1692.6 1327.4L1697.8 1353.4L1702.9 1381.6L1708.1 1410.5L1713.3 1435.1L1718.4 1450.0L1723.6 1452.9L1728.8 1442.8L1733.9 1430.8L1739.1 1428.3L1744.3 1425.3L1749.4 1406.9L1754.6 1386.4L1759.8 1377.6L1764.9 1379.9L1770.1 1381.3L1775.3 1378.0L1780.4 1377.3L1785.6 1379.7L1790.7 1382.3L1795.9 1388.1L1801.1 1395.1L1806.2 1390.6L1811.4 1383.8L1816.6 1390.3L1821.7 1396.8L1826.9 1387.8L1832.1 1372.9L1837.2 1357.4L1842.4 1334.6L1847.6 1317.7L1852.7 1314.6L1857.9 1311.7L1863.1 1306.7L1868.2 1318.2L1873.4 1339.6L1878.6 1351.9L1883.7 1351.9L1888.9 1356.3L1894.1 1363.1L1899.2 1363.5L1904.4 1363.1L1909.5 1370.3L1914.7 1378.0L1919.9 1379.4L1925.0 1383.8L1930.2 1394.2L1935.4 1399.3L1940.5 1401.1L1945.7 1405.5L1950.9 1410.1L1956.0 1415.3L1961.2 1422.1L1966.4 1414.9L1971.5 1386.7L1976.7 1359.6L1981.9 1341.1L1987.0 1324.5L1992.2 1309.0L1997.4 1299.6L2002.5 1301.6L2007.7 1312.9L2012.8 1328.1L2018.0 1353.4L2023.2 1378.0L2028.3 1392.0L2033.5 1396.5L2038.7 1401.6L2043.8 1409.4L2049.0 1410.5L2054.2 1403.0L2059.3 1396.1L2064.5 1396.4L2069.7 1395.8L2074.8 1388.5L2080.0 1381.6L2085.2 1375.5L2090.3 1366.1L2095.5 1364.5L2100.7 1372.2L2105.8 1373.2L2111.0 1358.5L2112.6 1353.9"/>
<path class="w" stroke="#0000ff" stroke-width="2.1" d="M303.2 376.7L308.4 378.1L313.5 386.5L318.7 383.2L323.9 374.8L329.0 378.6L334.2 383.9L339.4 379.6L344.5 379.3L349.7 384.6L354.9 376.2L360.0 360.8L365.2 365.4L370.3 383.2L375.5 383.9L380.7 369.4L385.8 364.4L391.0 367.3L396.2 367.3L401.3 372.0L406.5 384.3L411.7 388.8L416.8 386.1L422.0 389.5L427.2 392.9L432.3 385.4L437.5 379.0L442.7 381.3L447.8 380.3L453.0 373.3L458.2 372.8L463.3 378.8L468.5 380.0L473.6 375.5L478.8 373.5L484.0 373.2L489.1 371.6L494.3 367.7L499.5 366.0L504.6 370.9L509.8 378.1L515.0 379.6L520.1 380.4L525.3 385.2L530.5 386.4L535.6 379.0L540.8 374.6L546.0 376.7L551.1 377.0L556.3 374.6L561.5 379.9L566.6 394.0L571.8 403.3L577.0 398.4L582.1 386.1L587.3 375.5L592.4 366.8L597.6 364.7L602.8 370.5L607.9 372.3L613.1 365.1L618.3 361.8L623.4 370.5L628.6 379.0L633.8 376.4L638.9 372.8L644.1 373.8L649.3 375.2L654.4 380.7L659.6 389.4L664.8 383.2L669.9 372.3L675.1 371.2L680.3 377.8L685.4 372.3L690.6 357.6L695.7 351.8L700.9 356.7L706.1 362.5L711.2 375.2L716.4 394.8L721.6 407.3L726.7 405.2L731.9 400.3L737.1 401.0L742.2 396.2L747.4 381.7L752.6 366.8L757.7 353.8L762.9 347.5L768.1 357.9L773.2 368.9L778.4 366.5L783.6 364.4L788.7 376.7L793.9 390.1L799.0 389.3L804.2 377.8L809.4 367.1L814.5 364.1L819.7 365.1L824.9 366.8L830.0 369.2L835.2 370.9L840.4 374.4L845.5 389.0L850.7 404.2L855.9 402.0L861.0 385.1L866.2 381.4L871.4 393.3L876.5 402.0L881.7 400.1L886.9 393.3L892.0 380.0L897.2 366.8L902.4 367.1L907.5 370.9L912.7 362.5L917.8 349.9L923.0 352.5L928.2 373.1L933.3 393.0L938.5 397.4L943.7 395.0L948.8 394.3L954.0 394.5L959.2 396.9L964.3 399.8L969.5 388.2L974.7 367.3L979.8 359.0L985.0 356.0L990.2 340.8L995.3 334.0L1000.5 349.9L1005.7 365.8L1010.8 374.1L1016.0 392.6L1021.1 413.1L1026.3 407.8L1031.5 385.4L1036.6 372.8L1041.8 366.3L1047.0 352.5L1052.1 339.3L1057.3 342.0L1062.5 354.7L1067.6 370.9L1072.8 394.0L1078.0 415.4L1083.1 422.7L1088.3 418.9L1093.5 418.0L1098.6 423.0L1103.8 425.0L1109.0 413.9L1114.1 385.4L1119.3 351.6L1124.5 334.0L1129.6 335.2L1134.8 336.6L1139.9 330.8L1145.1 335.4L1150.3 359.3L1155.4 386.1L1160.6 400.1L1165.8 405.9L1170.9 405.9L1176.1 399.1L1181.3 394.8L1186.4 398.8L1191.6 396.5L1196.8 375.9L1201.9 356.0L1207.1 352.5L1212.3 352.1L1217.4 339.3L1222.6 331.8L1227.8 344.8L1232.9 365.8L1238.1 382.5L1243.2 400.5L1248.4 408.8L1253.6 395.5L1258.7 380.3L1263.9 378.5L1269.1 374.5L1274.2 358.6L1279.4 348.0L1284.6 348.2L1289.7 347.0L1294.9 344.5L1300.1 348.2L1305.2 352.4L1310.4 355.3L1315.6 366.5L1320.7 391.1L1325.9 411.1L1331.1 416.0L1336.2 415.7L1341.4 413.8L1346.6 405.2L1351.7 402.3L1356.9 416.4L1362.0 430.6L1367.2 435.0L1372.4 443.9L1377.5 460.6L1382.7 467.1L1387.9 455.9L1393.0 444.9L1398.2 438.6L1403.4 424.4L1408.5 399.1L1413.7 365.1L1418.9 328.2L1424.0 296.4L1429.2 272.5L1434.4 253.0L1439.5 241.0L1444.7 242.6L1449.9 255.1L1455.0 276.8L1460.2 301.9L1465.3 320.2L1470.5 333.3L1475.7 342.7L1480.8 349.5L1486.0 357.6L1491.2 368.7L1496.3 380.0L1501.5 389.7L1506.7 400.5L1511.8 415.7L1517.0 432.4L1522.2 443.9L1527.3 449.0L1532.5 452.6L1537.7 454.8L1542.8 457.1L1548.0 459.4L1553.2 452.6L1558.3 426.6L1563.5 404.2L1568.6 394.5L1573.8 395.9L1579.0 392.3L1584.1 385.1L1589.3 386.5L1594.5 391.6L1599.6 388.2L1604.8 378.1L1610.0 362.2L1615.1 342.2L1620.3 330.7L1625.5 338.8L1630.6 356.1L1635.8 363.9L1641.0 360.3L1646.1 354.2L1651.3 347.7L1656.5 338.3L1661.6 325.7L1666.8 313.7L1672.0 302.2L1677.1 295.7L1682.3 299.3L1687.4 313.0L1692.6 333.3L1697.8 359.3L1702.9 387.5L1708.1 416.4L1713.3 441.0L1718.4 455.9L1723.6 458.8L1728.8 448.7L1733.9 436.7L1739.1 434.2L1744.3 431.2L1749.4 412.8L1754.6 392.3L1759.8 383.5L1764.9 385.8L1770.1 387.2L1775.3 383.9L1780.4 383.2L1785.6 385.6L1790.7 388.2L1795.9 394.0L1801.1 401.0L1806.2 396.5L1811.4 389.7L1816.6 396.2L1821.7 402.7L1826.9 393.7L1832.1 378.8L1837.2 363.4L1842.4 340.5L1847.6 323.6L1852.7 320.5L1857.9 317.6L1863.1 312.6L1868.2 324.2L1873.4 345.6L1878.6 357.9L1883.7 357.9L1888.9 362.2L1894.1 369.0L1899.2 369.4L1904.4 369.0L1909.5 376.2L1914.7 383.9L1919.9 385.3L1925.0 389.7L1930.2 400.1L1935.4 405.2L1940.5 407.0L1945.7 411.4L1950.9 416.0L1956.0 421.2L1961.2 428.0L1966.4 420.8L1971.5 392.6L1976.7 365.5L1981.9 347.0L1987.0 330.4L1992.2 314.9L1997.4 305.5L2002.5 307.5L2007.7 318.8L2012.8 334.0L2018.0 359.3L2023.2 383.9L2028.3 397.9L2033.5 402.4L2038.7 407.5L2043.8 415.3L2049.0 416.4L2054.2 408.9L2059.3 402.0L2064.5 402.3L2069.7 401.7L2074.8 394.5L2080.0 387.5L2085.2 381.4L2090.3 372.0L2095.5 370.4L2100.7 378.1L2105.8 379.1L2111.0 364.4L2112.6 359.8"/>
<path class="w" stroke="#444444" stroke-width="1.55" d="M304.1 620.3L309.2 627.2L314.4 631.4L319.5 630.7L324.7 628.7L329.9 627.1L335.0 626.1L340.2 625.6L345.4 623.9L350.5 621.3L355.7 622.2L360.9 627.2L366.0 631.4L371.2 628.2L376.4 623.9L381.5 626.5L386.7 630.0L391.9 625.1L397.0 618.6L402.2 619.9L407.4 623.6L412.5 624.6L417.7 625.6L422.8 627.5L428.0 625.8L433.2 622.7L438.3 624.3L443.5 626.4L448.7 622.7L453.8 618.1L459.0 620.0L464.2 623.9L469.3 622.5L474.5 621.9L479.7 626.8L484.8 631.1L490.0 627.5L495.2 622.5L500.3 622.7L505.5 624.2L510.7 622.2L515.8 623.9L521.0 632.2L526.1 634.0L531.3 625.4L536.5 619.1L541.6 623.2L546.8 626.1L552.0 622.2L557.1 622.9L562.3 630.4L567.5 631.4L572.6 625.8L577.8 627.2L583.0 630.4L588.1 623.9L593.3 617.4L598.5 624.6L603.6 634.3L608.8 631.9L614.0 626.1L619.1 629.3L624.3 632.6L629.5 627.5L634.6 624.3L639.8 626.8L644.9 627.7L650.1 628.7L655.3 635.5L660.4 639.1L665.6 631.4L670.8 624.3L675.9 625.8L681.1 624.8L686.3 617.1L691.4 614.5L696.6 618.6L701.8 622.5L706.9 628.0L712.1 635.8L717.3 636.6L722.4 629.7L727.6 624.9L732.8 627.1L737.9 631.4L743.1 633.7L748.2 631.9L753.4 624.9L758.6 619.3L763.7 622.7L768.9 628.0L774.1 624.9L779.2 618.1L784.4 623.5L789.6 639.4L794.7 645.6L799.9 631.9L805.1 618.1L810.2 617.0L815.4 618.4L820.6 611.9L825.7 608.3L830.9 614.2L836.1 621.0L841.2 626.8L846.4 635.2L851.6 639.8L856.7 634.3L861.9 629.3L867.0 635.9L872.2 647.1L877.4 647.1L882.5 634.0L887.7 622.0L892.9 614.5L898.0 610.9L903.2 610.2L908.4 609.9L913.5 610.5L918.7 618.1L923.9 631.6L929.0 637.4L934.2 630.8L939.4 621.0L944.5 614.8L949.7 614.5L954.9 623.9L960.0 638.1L965.2 645.2L970.3 641.6L975.5 632.6L980.7 621.7L985.8 613.1L991.0 609.4L996.2 610.2L1001.3 614.8L1006.5 624.9L1011.7 637.6L1016.8 647.5L1022.0 651.0L1027.2 646.0L1032.3 634.0L1037.5 622.5L1042.7 617.7L1047.8 614.5L1053.0 608.4L1058.2 605.4L1063.3 608.0L1068.5 614.2L1073.6 625.4L1078.8 640.3L1084.0 651.8L1089.1 655.7L1094.3 657.5L1099.5 654.3L1104.6 641.3L1109.8 625.4L1115.0 613.1L1120.1 604.4L1125.3 597.1L1130.5 595.7L1135.6 600.5L1140.8 601.5L1146.0 601.2L1151.1 611.9L1156.3 629.7L1161.5 639.5L1166.6 643.7L1171.8 653.3L1177.0 660.1L1182.1 649.9L1187.3 638.8L1192.4 639.1L1197.6 640.1L1202.8 627.2L1207.9 615.4L1213.1 613.8L1218.3 620.4L1223.4 622.4L1228.6 617.1L1233.8 615.9L1238.9 621.1L1244.1 619.0L1249.3 610.6L1254.4 611.3L1259.6 616.4L1264.8 611.3L1269.9 600.2L1275.1 597.6L1280.3 598.6L1285.4 592.5L1290.6 587.9L1295.7 593.2L1300.9 596.8L1306.1 590.0L1311.2 588.4L1316.4 605.5L1321.6 628.7L1326.7 650.4L1331.9 672.1L1337.1 689.4L1342.2 700.6L1347.4 708.7L1352.6 710.1L1357.7 698.5L1362.9 680.7L1368.1 671.8L1373.2 673.1L1378.4 670.6L1383.6 664.1L1388.7 668.2L1393.9 679.0L1399.1 681.5L1404.2 676.1L1409.4 665.3L1414.5 636.6L1419.7 591.1L1424.9 545.5L1430.0 515.8L1435.2 495.9L1440.4 489.8L1445.5 507.9L1450.7 541.9L1455.9 575.9L1461.0 601.9L1466.2 623.3L1471.4 631.6L1476.5 623.6L1481.7 611.3L1486.9 604.8L1492.0 601.2L1497.2 602.2L1502.4 615.6L1507.5 643.1L1512.7 669.6L1517.8 688.7L1523.0 698.5L1528.2 700.6L1533.3 697.7L1538.5 688.7L1543.7 670.6L1548.8 650.4L1554.0 639.5L1559.2 632.0L1564.3 616.4L1569.5 601.6L1574.7 596.8L1579.8 598.3L1585.0 600.9L1590.2 607.7L1595.3 617.1L1600.5 616.1L1605.7 606.0L1610.8 599.7L1616.0 600.5L1621.2 597.1L1626.3 589.2L1631.5 583.1L1636.6 579.9L1641.8 580.5L1647.0 590.0L1652.1 601.2L1657.3 607.0L1662.5 615.2L1667.6 640.2L1672.8 676.4L1678.0 702.0L1683.1 710.4L1688.3 718.4L1693.5 721.0L1698.6 703.9L1703.8 680.0L1709.0 664.1L1714.1 645.0L1719.3 613.5L1724.5 593.9L1729.6 589.3L1734.8 580.2L1739.9 566.0L1745.1 572.5L1750.3 596.8L1755.4 611.0L1760.6 617.4L1765.8 633.7L1770.9 645.6L1776.1 633.7L1781.3 617.4L1786.4 615.9L1791.6 612.3L1796.8 596.1L1801.9 591.3L1807.1 606.2L1812.3 618.5L1817.4 624.0L1822.6 640.2L1827.8 655.7L1832.9 643.6L1838.1 623.2L1843.2 622.9L1848.4 629.1L1853.6 623.2L1858.7 622.9L1863.9 641.7L1869.1 655.4L1874.2 652.5L1879.4 656.2L1884.6 670.2L1889.7 671.1L1894.9 656.9L1900.1 648.9L1905.2 645.0L1910.4 622.9L1915.6 591.8L1920.7 579.0L1925.9 586.0L1931.1 589.9L1936.2 585.6L1941.4 591.1L1946.6 603.1L1951.7 610.6L1956.9 616.7L1962.0 625.5L1967.2 630.1L1972.4 630.5L1977.5 634.5L1982.7 638.4L1987.9 633.4L1993.0 628.4L1998.2 627.7L2003.4 623.9L2008.5 614.6L2013.7 608.8L2018.9 609.3L2024.0 609.4L2029.2 610.9L2034.4 620.7L2039.5 634.5L2044.7 643.1L2049.9 647.5L2055.0 652.2L2060.2 657.6L2065.3 661.6L2070.5 663.1L2075.7 659.0L2080.8 647.5L2086.0 637.1L2091.2 628.2L2096.3 619.3L2101.5 609.4L2106.7 601.2L2111.8 599.3L2112.6 599.1"/>
<path class="w" stroke="#444444" stroke-width="1.55" d="M304.8 861.9L310.0 864.8L315.1 875.4L320.3 880.4L325.5 875.4L330.6 873.6L335.8 881.6L341.0 881.9L346.1 869.6L351.3 868.8L356.5 880.4L361.6 873.6L366.8 855.8L371.9 860.5L377.1 875.4L382.3 870.0L387.4 862.3L392.6 875.4L397.8 889.1L402.9 885.0L408.1 881.9L413.3 886.9L418.4 879.0L423.6 860.9L428.8 857.7L433.9 872.5L439.1 883.0L444.3 883.3L449.4 886.9L454.6 892.0L459.8 884.3L464.9 870.7L470.1 865.9L475.2 867.7L480.4 865.2L485.6 864.5L490.7 876.5L495.9 888.4L501.1 884.0L506.2 876.8L511.4 881.9L516.6 884.8L521.7 873.2L526.9 863.1L532.1 868.6L537.2 876.1L542.4 877.2L547.6 878.7L552.7 880.7L557.9 884.0L563.1 892.0L568.2 892.7L573.4 879.0L578.6 867.1L583.7 865.2L588.9 865.5L594.0 865.2L599.2 872.5L604.4 880.0L609.5 877.2L614.7 876.1L619.9 883.3L625.0 881.4L630.2 869.3L635.4 869.6L640.5 878.5L645.7 872.7L650.9 861.3L656.0 870.3L661.2 884.8L666.4 881.6L671.5 872.5L676.7 873.9L681.9 876.5L687.0 871.3L692.2 866.7L697.3 867.4L702.5 865.9L707.7 862.3L712.8 864.5L718.0 871.4L723.2 876.1L728.3 881.1L733.5 890.8L738.7 894.4L743.8 882.6L749.0 867.4L754.2 856.3L759.3 849.6L764.5 851.9L769.7 867.4L774.8 885.5L780.0 897.3L785.2 902.1L790.3 893.0L795.5 871.0L800.6 849.3L805.8 841.1L811.0 844.0L816.1 853.7L821.3 868.1L826.5 885.5L831.6 901.4L836.8 905.7L842.0 891.7L847.1 866.7L852.3 851.2L857.5 850.0L862.6 859.7L867.8 884.0L873.0 916.1L878.1 925.3L883.3 905.0L888.5 880.4L893.6 860.9L898.8 843.8L904.0 833.0L909.1 837.0L914.3 850.8L919.4 869.6L924.6 888.4L929.8 903.6L934.9 905.0L940.1 892.0L945.3 873.9L950.4 856.1L955.6 845.3L960.8 855.8L965.9 881.9L971.1 902.1L976.3 901.1L981.4 887.6L986.6 873.6L991.8 867.0L996.9 868.8L1002.1 866.7L1007.3 859.4L1012.4 868.8L1017.6 901.4L1022.7 922.4L1027.9 902.8L1033.1 881.4L1038.2 881.1L1043.4 873.5L1048.6 845.0L1053.7 836.0L1058.9 856.5L1064.1 867.7L1069.2 870.3L1074.4 894.9L1079.6 921.6L1084.7 907.2L1089.9 879.0L1095.1 883.3L1100.2 898.2L1105.4 881.9L1110.6 860.9L1115.7 868.8L1120.9 878.7L1126.1 860.2L1131.2 841.1L1136.4 838.9L1141.5 838.2L1146.7 835.9L1151.9 853.7L1157.0 888.4L1162.2 904.3L1167.4 898.1L1172.5 894.6L1177.7 897.5L1182.9 893.0L1188.0 885.0L1193.2 883.7L1198.4 883.3L1203.5 872.6L1208.7 862.8L1213.9 867.1L1219.0 878.4L1224.2 877.7L1229.4 862.0L1234.5 852.3L1239.7 860.1L1244.8 874.3L1250.0 873.9L1255.2 861.3L1260.3 850.9L1265.5 847.9L1270.7 848.7L1275.8 850.7L1281.0 850.2L1286.2 842.5L1291.3 833.1L1296.5 831.6L1301.7 833.1L1306.8 826.3L1312.0 827.6L1317.2 855.5L1322.3 897.5L1327.5 923.5L1332.7 936.5L1337.8 944.5L1343.0 951.4L1348.2 951.0L1353.3 954.3L1358.5 963.7L1363.6 962.3L1368.8 938.0L1374.0 914.1L1379.1 908.3L1384.3 911.9L1389.5 910.2L1394.6 909.8L1399.8 920.6L1405.0 930.3L1410.1 917.3L1415.3 876.5L1420.5 829.5L1425.6 783.9L1430.8 748.5L1436.0 737.9L1441.1 747.7L1446.3 765.8L1451.5 786.1L1456.6 817.9L1461.8 857.7L1466.9 886.6L1472.1 888.4L1477.3 872.9L1482.4 853.3L1487.6 838.6L1492.8 840.0L1497.9 853.3L1503.1 867.1L1508.3 886.6L1513.4 913.4L1518.6 939.4L1523.8 956.8L1528.9 955.3L1534.1 934.4L1539.3 907.6L1544.4 894.1L1549.6 888.8L1554.8 884.2L1559.9 879.4L1565.1 875.5L1570.2 867.8L1575.4 854.1L1580.6 842.5L1585.7 845.1L1590.9 857.7L1596.1 865.6L1601.2 867.1L1606.4 872.2L1611.6 876.9L1616.7 864.2L1621.9 838.2L1627.1 823.0L1632.2 820.8L1637.4 819.4L1642.6 827.7L1647.7 855.5L1652.9 877.9L1658.1 881.1L1663.2 886.3L1668.4 911.9L1673.6 934.4L1678.7 938.7L1683.9 943.0L1689.0 955.0L1694.2 954.9L1699.4 938.7L1704.5 926.8L1709.7 917.0L1714.9 890.2L1720.0 854.8L1725.2 833.8L1730.4 821.5L1735.5 810.4L1740.7 816.5L1745.9 844.7L1751.0 871.4L1756.2 877.2L1761.4 877.9L1766.5 887.1L1771.7 885.9L1776.9 862.8L1782.0 844.7L1787.2 850.9L1792.3 867.4L1797.5 868.2L1802.7 861.3L1807.8 865.9L1813.0 872.2L1818.2 867.4L1823.3 868.2L1828.5 883.0L1833.7 891.7L1838.8 885.5L1844.0 884.9L1849.2 890.2L1854.3 880.1L1859.5 861.0L1864.7 864.6L1869.8 889.5L1875.0 904.0L1880.2 898.9L1885.3 901.8L1890.5 917.0L1895.7 917.0L1900.8 893.1L1906.0 869.7L1911.1 857.4L1916.3 850.9L1921.5 838.2L1926.6 824.4L1931.8 826.6L1937.0 843.9L1942.1 858.4L1947.3 866.1L1952.5 873.9L1957.6 881.6L1962.8 880.4L1968.0 872.2L1973.1 869.7L1978.3 876.1L1983.5 879.7L1988.6 874.3L1993.8 869.0L1999.0 865.9L2004.1 862.0L2009.3 861.7L2014.4 866.8L2019.6 863.9L2024.8 855.2L2029.9 862.0L2035.1 883.7L2040.3 896.3L2045.4 894.3L2050.6 893.1L2055.8 893.9L2060.9 887.8L2066.1 884.0L2071.3 891.7L2076.4 898.9L2081.6 897.5L2086.8 897.8L2091.9 894.1L2097.1 867.1L2102.3 836.4L2107.4 831.4L2112.6 845.4L2112.6 845.4"/>
<path class="w" stroke="#444444" stroke-width="1.55" d="M303.5 1123.3L308.7 1115.4L313.8 1108.6L319.0 1114.9L324.2 1134.2L329.3 1138.5L334.5 1121.4L339.7 1113.6L344.8 1120.8L350.0 1121.1L355.2 1114.9L360.3 1122.2L365.5 1133.4L370.6 1129.4L375.8 1117.8L381.0 1116.5L386.1 1122.2L391.3 1120.8L396.5 1116.5L401.6 1117.2L406.8 1114.6L412.0 1108.1L417.1 1117.2L422.3 1135.6L427.5 1138.9L432.6 1133.9L437.8 1135.2L443.0 1129.1L448.1 1108.8L453.3 1097.6L458.5 1105.7L463.6 1117.2L468.8 1124.8L473.9 1133.1L479.1 1141.7L484.3 1135.2L489.4 1125.0L494.6 1125.2L499.8 1121.1L504.9 1103.1L510.1 1099.4L515.3 1120.4L520.4 1133.9L525.6 1127.9L530.8 1127.2L535.9 1137.8L541.1 1132.0L546.3 1107.7L551.4 1098.4L556.6 1110.3L561.8 1121.4L566.9 1129.5L572.1 1141.8L577.3 1144.3L582.4 1127.6L587.6 1112.9L592.7 1110.6L597.9 1111.7L603.1 1112.5L608.2 1119.0L613.4 1127.9L618.6 1127.4L623.7 1124.3L628.9 1132.0L634.1 1141.4L639.2 1137.3L644.4 1125.0L649.6 1119.7L654.7 1121.6L659.9 1120.0L665.1 1112.9L670.2 1108.8L675.4 1116.8L680.6 1132.0L685.7 1138.5L690.9 1127.9L696.0 1112.5L701.2 1105.9L706.4 1111.0L711.5 1118.7L716.7 1121.1L721.9 1116.8L727.0 1117.2L732.2 1125.0L737.4 1133.0L742.5 1135.3L747.7 1130.8L752.9 1122.9L758.0 1119.0L763.2 1121.6L768.4 1123.7L773.5 1118.5L778.7 1110.7L783.9 1112.0L789.0 1122.6L794.2 1133.1L799.3 1132.7L804.5 1123.0L809.7 1117.5L814.8 1123.3L820.0 1130.5L825.2 1127.6L830.3 1116.8L835.5 1108.8L840.7 1107.4L845.8 1112.0L851.0 1119.7L856.2 1124.8L861.3 1128.4L866.5 1138.5L871.7 1153.4L876.8 1159.9L882.0 1148.9L887.2 1126.2L892.3 1106.7L897.5 1103.3L902.7 1118.2L907.8 1132.3L913.0 1120.4L918.1 1104.5L923.3 1110.3L928.5 1124.8L933.6 1133.4L938.8 1133.0L944.0 1124.0L949.1 1118.5L954.3 1125.5L959.5 1130.8L964.6 1124.8L969.8 1122.9L975.0 1131.6L980.1 1137.1L985.3 1128.4L990.5 1117.5L995.6 1114.6L1000.8 1113.2L1006.0 1111.7L1011.1 1120.4L1016.3 1137.5L1021.4 1146.5L1026.6 1148.9L1031.8 1152.2L1036.9 1142.8L1042.1 1121.9L1047.3 1113.9L1052.4 1111.4L1057.6 1094.4L1062.8 1083.1L1067.9 1103.1L1073.1 1132.7L1078.3 1145.0L1083.4 1150.8L1088.6 1160.2L1093.8 1156.6L1098.9 1138.5L1104.1 1124.0L1109.3 1114.6L1114.4 1106.7L1119.6 1107.1L1124.8 1117.1L1129.9 1120.1L1135.1 1107.1L1140.2 1092.9L1145.4 1090.8L1150.6 1098.0L1155.7 1104.5L1160.9 1113.9L1166.1 1130.5L1171.2 1141.8L1176.4 1143.3L1181.6 1145.0L1186.7 1146.2L1191.9 1142.4L1197.1 1138.5L1202.2 1134.9L1207.4 1120.9L1212.6 1103.5L1217.7 1098.5L1222.9 1112.2L1228.1 1127.1L1233.2 1127.4L1238.4 1115.1L1243.5 1107.1L1248.7 1106.8L1253.9 1108.3L1259.0 1109.3L1264.2 1105.7L1269.4 1093.7L1274.5 1087.3L1279.7 1096.3L1284.9 1105.4L1290.0 1100.3L1295.2 1088.3L1300.4 1081.1L1305.5 1086.4L1310.7 1097.3L1315.9 1103.2L1321.0 1110.5L1326.2 1129.6L1331.4 1157.0L1336.5 1187.4L1341.7 1211.3L1346.9 1222.9L1352.0 1212.0L1357.2 1184.5L1362.3 1165.4L1367.5 1162.8L1372.7 1159.6L1377.8 1153.9L1383.0 1160.2L1388.2 1171.9L1393.3 1168.9L1398.5 1154.4L1403.7 1151.3L1408.8 1155.2L1414.0 1139.7L1419.2 1106.4L1424.3 1071.0L1429.5 1037.0L1434.7 1003.0L1439.8 986.3L1445.0 1004.4L1450.2 1032.6L1455.3 1057.2L1460.5 1086.2L1465.6 1120.2L1470.8 1136.8L1476.0 1138.2L1481.1 1133.2L1486.3 1122.3L1491.5 1107.9L1496.6 1097.3L1501.8 1099.1L1507.0 1116.9L1512.1 1143.2L1517.3 1175.8L1522.5 1199.3L1527.6 1202.8L1532.8 1193.9L1538.0 1188.1L1543.1 1182.6L1548.3 1164.9L1553.5 1140.3L1558.6 1123.7L1563.8 1113.9L1568.9 1101.3L1574.1 1085.4L1579.3 1081.0L1584.4 1097.9L1589.6 1120.5L1594.8 1127.6L1599.9 1114.3L1605.1 1100.3L1610.3 1096.9L1615.4 1098.1L1620.6 1090.7L1625.8 1081.0L1630.9 1079.3L1636.1 1082.9L1641.3 1088.2L1646.4 1095.5L1651.6 1099.8L1656.8 1099.8L1661.9 1106.0L1667.1 1125.9L1672.3 1152.6L1677.4 1177.2L1682.6 1199.6L1687.7 1220.6L1692.9 1232.6L1698.1 1219.6L1703.2 1180.1L1708.4 1141.8L1713.6 1123.0L1718.7 1104.2L1723.9 1079.1L1729.1 1075.2L1734.2 1093.7L1739.4 1099.1L1744.6 1078.1L1749.7 1065.8L1754.9 1083.9L1760.1 1113.3L1765.2 1129.5L1770.4 1140.3L1775.6 1146.8L1780.7 1136.0L1785.9 1121.5L1791.0 1118.3L1796.2 1115.7L1801.4 1103.0L1806.5 1091.9L1811.7 1098.4L1816.9 1115.0L1822.0 1124.4L1827.2 1129.0L1832.4 1141.0L1837.5 1154.5L1842.7 1151.2L1847.9 1133.8L1853.0 1120.1L1858.2 1113.1L1863.4 1110.7L1868.5 1116.2L1873.7 1133.1L1878.9 1158.4L1884.0 1178.2L1889.2 1182.6L1894.4 1167.1L1899.5 1149.7L1904.7 1135.3L1909.8 1114.3L1915.0 1089.7L1920.2 1080.0L1925.3 1086.4L1930.5 1092.6L1935.7 1099.1L1940.8 1111.4L1946.0 1117.9L1951.2 1109.9L1956.3 1103.1L1961.5 1107.1L1966.7 1113.3L1971.8 1119.3L1977.0 1127.6L1982.2 1136.7L1987.3 1144.4L1992.5 1147.8L1997.7 1141.0L2002.8 1124.4L2008.0 1109.9L2013.1 1105.6L2018.3 1103.0L2023.5 1098.7L2028.6 1103.7L2033.8 1121.5L2039.0 1134.2L2044.1 1138.4L2049.3 1145.8L2054.5 1155.9L2059.6 1152.6L2064.8 1142.5L2070.0 1143.2L2075.1 1146.4L2080.3 1138.2L2085.5 1131.2L2090.6 1135.3L2095.8 1131.6L2101.0 1109.9L2106.1 1094.3L2111.3 1100.5L2112.6 1102.9"/>
<path d="M665.9 315.6V439.6" stroke="#ff0000" stroke-width="8.2" fill="none"/>
<path d="M1389.0 315.6V439.6" stroke="#00e600" stroke-width="8.2" fill="none"/>
<path d="M1337.2 564.1V688.1" stroke="#00e600" stroke-width="8.2" fill="none"/>
<path d="M1332.9 812.8V936.8" stroke="#00e600" stroke-width="8.2" fill="none"/>
<path d="M1347.0 1061.4V1185.4" stroke="#00e600" stroke-width="8.2" fill="none"/>
</g>
<text class="tl" x="458.45" y="1617">-0.2</text>
<text class="tl" x="664.36" y="1617">0</text>
<text class="tl" x="872.37" y="1617">0.2</text>
<text class="tl" x="1078.77" y="1617">0.4</text>
<text class="tl" x="1285.28" y="1617">0.6</text>
<text class="tl" x="1492.48" y="1617">0.8</text>
<text class="tl" x="1697.69" y="1617">1</text>
<text class="tl" x="1905.19" y="1617">1.2</text>
<text class="tl" x="2112.20" y="1617">1.4</text>
<text class="ti" x="1206.9" y="96">609100222.OO.AXAS1.EHN</text>
</svg></body></html>
